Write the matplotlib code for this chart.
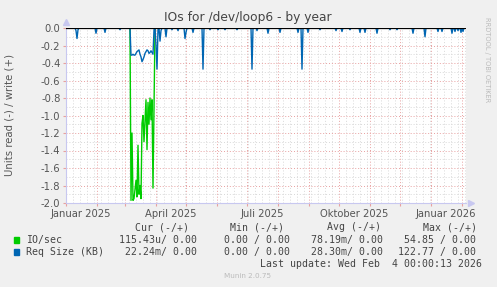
import datetime as dt
import numpy as np
import matplotlib
matplotlib.use('Agg')
import matplotlib.pyplot as plt
from matplotlib.ticker import MultipleLocator, FixedLocator, NullFormatter

# days counted from 2025-01-01, graph spans 400 days
start = dt.date(2025, 1, 1)
span_days = 400

# IO/sec (read, drawn negative), only non-zero stretch
io_days = list(range(64, 90))
io_vals = [0.0, -1.97, -1.2, -1.97, -1.95, -1.85, -1.74, -1.93, -1.34, -1.9,
           -1.8, -1.95, -1.09, -1.0, -1.3, -1.05, -0.82, -1.39, -0.85, -1.1,
           -0.8, -1.05, -0.82, -1.83, -0.9, 0.0]

# Req Size (KB) dips below zero, day -> value
req_dips = {
    10: -0.03, 11: -0.12, 12: -0.02, 30: -0.06, 39: -0.05, 54: -0.02,
    65: -0.31, 66: -0.31, 67: -0.30, 68: -0.31, 69: -0.31, 70: -0.29,
    71: -0.27, 72: -0.26, 73: -0.25, 74: -0.30, 75: -0.33, 76: -0.385,
    77: -0.36, 78: -0.33, 79: -0.29, 80: -0.27, 81: -0.25, 82: -0.26,
    83: -0.29, 84: -0.28, 85: -0.26, 86: -0.28, 87: -0.30, 88: -0.02,
    90: -0.2, 91: -0.47, 92: -0.02, 94: -0.15, 95: -0.03, 100: -0.1,
    106: -0.02, 112: -0.03, 119: -0.12, 120: -0.05, 127: -0.05,
    137: -0.47, 144: -0.02, 152: -0.02, 159: -0.02, 171: -0.02,
    186: -0.47, 191: -0.03, 202: -0.06, 214: -0.05, 232: -0.05,
    236: -0.47, 242: -0.05, 254: -0.02, 270: -0.03, 276: -0.04,
    284: -0.02, 294: -0.05, 299: -0.05, 311: -0.06, 324: -0.02,
    331: -0.02, 347: -0.06, 359: -0.1, 372: -0.04, 376: -0.04,
    386: -0.06, 389: -0.04, 392: -0.03, 395: -0.05, 397: -0.04,
}

month_names = ['Januar', 'April', 'Juli', 'Oktober', 'Januar']
label_years = [2025, 2025, 2025, 2025, 2026]
label_months = [1, 4, 7, 10, 1]

io_color = '#00CC00'
req_color = '#0066B3'

io = np.zeros(span_days + 1)
io[io_days] = io_vals
req = np.zeros(span_days + 1)
for d, v in req_dips.items():
    req[d] = v
days = np.arange(span_days + 1)

W, H = 497, 287
fig = plt.figure(figsize=(W / 100, H / 100), dpi=100, facecolor='#F0F0F0')
ax = fig.add_axes([66 / W, 1 - 203 / H, 400 / W, 175 / H])
ax.set_facecolor('white')

ax.plot(days, io, color=io_color, lw=1.0, zorder=3)
ax.plot(days, req, color=req_color, lw=1.0, zorder=4)
ax.axhline(0, color='black', lw=0.9, zorder=5)

ax.set_xlim(0, span_days)
ax.set_ylim(-2.0, 0.0)

# month starts -> major grid, weeks -> minor grid
month_starts = []
y, m = 2025, 1
while True:
    d = (dt.date(y, m, 1) - start).days
    if d > span_days:
        break
    month_starts.append(d)
    m += 1
    if m > 12:
        m, y = 1, y + 1
ax.xaxis.set_major_locator(FixedLocator(month_starts))
ax.xaxis.set_minor_locator(MultipleLocator(7))
ax.xaxis.set_major_formatter(NullFormatter())
ax.yaxis.set_major_locator(MultipleLocator(0.2))
ax.yaxis.set_minor_locator(MultipleLocator(0.1))
ax.set_yticks(np.arange(-2.0, 0.01, 0.2))
ax.set_yticklabels(['%.1f' % v if abs(v) > 1e-9 else '0.0'
                    for v in np.arange(-2.0, 0.01, 0.2)])

ax.grid(which='major', color='#E8A0A0', ls=(0, (1, 2)), lw=0.7, zorder=1)
ax.grid(which='minor', color='#D8D8D8', ls=(0, (1, 2)), lw=0.7, zorder=0)
ax.tick_params(which='both', length=2, color='#E8A0A0', labelsize=7.2,
               labelcolor='#555555', pad=2)
ax.tick_params(which='minor', length=0)

for s in ['top', 'right']:
    ax.spines[s].set_visible(False)
for s in ['left', 'bottom']:
    ax.spines[s].set_color('#C8C8F0')
    ax.spines[s].set_linewidth(0.8)

for name, yr, mo in zip(month_names, label_years, label_months):
    pos = (dt.date(yr, mo, 16) - start).days
    ax.text(pos, -0.035, '%s %d' % (name, yr), transform=ax.get_xaxis_transform(),
            ha='center', va='top', fontsize=7.2, color='#555555')

# axis arrows
ax.plot([0], [1.035], marker='^', ms=4, color='#C8C8F0', transform=ax.transAxes,
        clip_on=False)
ax.plot([1.012], [0], marker='>', ms=4, color='#C8C8F0', transform=ax.transAxes,
        clip_on=False)

fig.text(248 / W, 1 - 17 / H, 'IOs for /dev/loop6 - by year', ha='center',
         va='center', fontsize=8.8, color='#444444')
fig.text(10 / W, 1 - 115 / H, 'Units read (-) / write (+)', rotation=90,
         ha='center', va='center', fontsize=7.3, color='#555555')
fig.text(487 / W, 1 - 60 / H, 'RRDTOOL / TOBI OETIKER', rotation=270,
         ha='center', va='center', fontsize=4.8, color='#BBBBBB')

mono = dict(family='DejaVu Sans Mono', fontsize=7.1, color='#444444', va='center')
headers = ['Cur (-/+)', 'Min (-/+)', 'Avg (-/+)', 'Max (-/+)']
header_x = [135, 230, 327, 423]
for t, x in zip(headers, header_x):
    fig.text(x / W, 1 - 227.5 / H, t, **mono)

rows = [('IO/sec', io_color, ['115.43u/ 0.00', '0.00 / 0.00', '78.19m/ 0.00', '54.85 / 0.00'], 239.7),
        ('Req Size (KB)', req_color, ['22.24m/ 0.00', '0.00 / 0.00', '28.30m/ 0.00', '122.77 / 0.00'], 251.7)]
right_x = [197, 290, 383, 476]
for label, col, vals, yy in rows:
    fig.patches.append(plt.Rectangle((14 / W, 1 - (yy + 3) / H), 5 / W, 6 / H,
                                     transform=fig.transFigure, color=col))
    fig.text(26 / W, 1 - yy / H, label, **mono)
    for v, x in zip(vals, right_x):
        fig.text(x / W, 1 - yy / H, v, ha='right',
                 **{k: mono[k] for k in ('family', 'fontsize', 'color', 'va')})

fig.text(482 / W, 1 - 263.7 / H, 'Last update: Wed Feb  4 00:00:13 2026', ha='right',
         **mono)
fig.text(248 / W, 1 - 276 / H, 'Munin 2.0.75', ha='center', va='center',
         fontsize=5.2, color='#BBBBBB')

fig.savefig('out.png', dpi=100, facecolor=fig.get_facecolor())
